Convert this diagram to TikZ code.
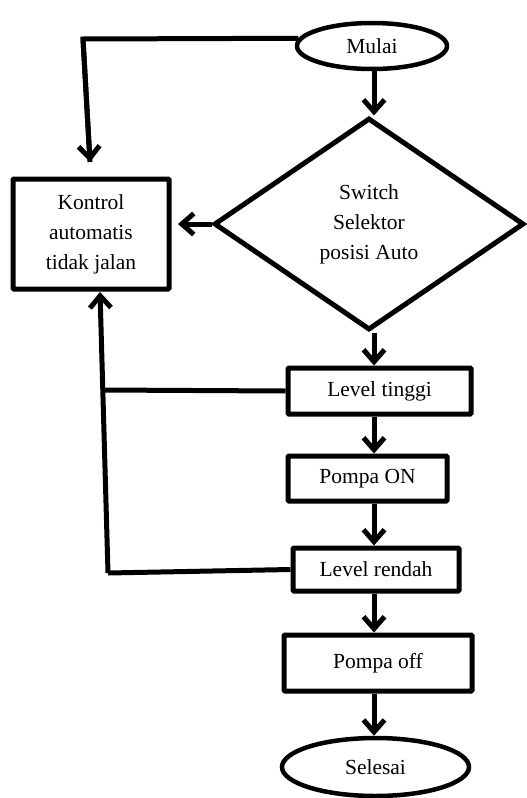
\documentclass[tikz,border=0pt]{standalone}
\usepackage{fontspec}
\setmainfont{Liberation Serif}
\usetikzlibrary{shapes.geometric,arrows.meta}
\begin{document}
\begin{tikzpicture}[x=1pt,y=-1pt,
  every node/.style={font=\fontsize{21.5}{30}\selectfont, text=black, align=center, inner sep=0pt},
  boxnode/.style={draw, line width=5pt, rounded corners=1pt, rectangle},
  ovalnode/.style={draw, line width=4.5pt, ellipse},
  decnode/.style={draw, line width=5pt, diamond, shape aspect=1.2},
  arr/.style={line width=5pt, -{Straight Barb[length=12pt,width=21pt]}},
  ln/.style={line width=5pt}
]
\useasboundingbox (0,0) rectangle (527,798);
\fill[white] (0,0) rectangle (527,798);

\node[ovalnode, minimum width=150pt, minimum height=46pt] (mulai) at (372,46) {Mulai};
\node[boxnode, minimum width=156pt, minimum height=110pt] (kontrol) at (91,234) {Kontrol\\automatis\\tidak jalan};
\node[decnode, minimum width=310pt, minimum height=212pt] (dec) at (369,224) {Switch\\Selektor\\posisi Auto};
\node[boxnode, minimum width=183pt, minimum height=46pt] (lt) at (379.5,391) {Level tinggi};
\node[boxnode, minimum width=159pt, minimum height=45pt] (pon) at (367.5,478.5) {Pompa ON};
\node[boxnode, minimum width=166pt, minimum height=43pt] (lr) at (376,569.5) {Level rendah};
\node[boxnode, minimum width=188pt, minimum height=56pt] (poff) at (378,663) {Pompa off};
\node[ovalnode, minimum width=187pt, minimum height=58pt] (sel) at (375.5,767) {Selesai};

\coordinate (ax) at (374,0);
\draw[arr] (mulai.south -| ax) -- (dec.north -| ax);
\draw[arr] (dec.south -| ax) -- (lt.north -| ax);
\draw[arr] (lt.south -| ax) -- (pon.north -| ax);
\draw[arr] (pon.south -| ax) -- (lr.north -| ax);
\draw[arr] (lr.south -| ax) -- (poff.north -| ax);
\draw[arr] (poff.south -| ax) -- (sel.north -| ax);

\coordinate (k1) at (83,39);
\coordinate (k2) at (90,162);
\draw[ln, line join=miter] (mulai.174) -- (k1) -- (k2);
\draw[arr] (k1) -- (k2);

\coordinate (kd) at (178,224);
\draw[arr] (dec.west) -- (kd);

\coordinate (b1) at (108,573);
\coordinate (t1) at (100,292);
\coordinate (j1) at (102,390);
\draw[ln] (lr.west) -- (b1);
\draw[arr] (b1) -- (t1);
\draw[ln] (lt.west) -- (j1);
\end{tikzpicture}
\end{document}
